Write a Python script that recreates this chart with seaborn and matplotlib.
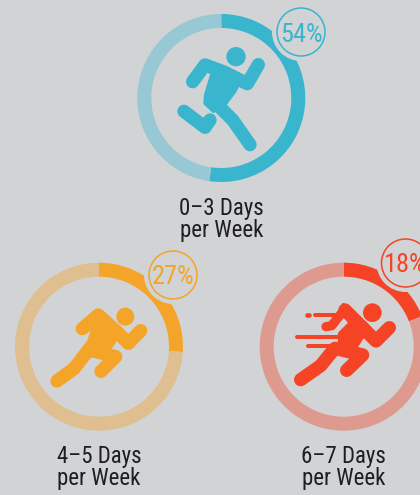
import matplotlib
matplotlib.use("Agg")
import matplotlib.pyplot as plt
from matplotlib.patches import Circle, Polygon
import seaborn as sns

categories = ["0–3 Days\nper Week", "4–5 Days\nper Week", "6–7 Days\nper Week"]
shares = [54, 27, 18]              # printed in the badges
arc_shares = [52.3, 26, 19.1]      # as actually drawn by the rings in the picture
strong_colors = ["#3AB5CE", "#F5A42A", "#F44325"]
pale_colors = ["#98C8D4", "#DFBF8F", "#DF9A90"]
BG = "#D1D3D5"
INK = "#1E1E20"

# layout in pixels (y measured from the top)
W, H = 420, 495
centers = [(221.3, 98), (99, 346.7), (343.7, 346.7)]
badges = [(301, 32), (173, 275), (405.5, 263)]
label_y = [219.5, 467.5, 467.5]
R_OUT, R_IN = 84, 70

sns.set_theme(style="white", rc={"figure.facecolor": BG, "axes.facecolor": BG})
plt.rcParams["font.family"] = ["Roboto Condensed", "DejaVu Sans"]

fig = plt.figure(figsize=(W / 100, H / 100), dpi=100)
ax = fig.add_axes([0, 0, 1, 1])


def icon(origin, col, head, lines, polys, width=40):
    """Pictogram: coordinates in 3x units from a pixel origin."""
    ox, oy = origin
    P = lambda p: (ox + p[0] / 3, H - (oy + p[1] / 3))
    ax.add_patch(Circle(P(head[:2]), head[2] / 3, fc=col, ec="none", zorder=5))
    for pts in polys:
        ax.add_patch(Polygon([P(p) for p in pts], closed=True, fc=col, ec=col, lw=2,
                             joinstyle="round", zorder=5))
    for item in lines:
        pts, w = item if isinstance(item, tuple) else (item, width)
        xs, ys = zip(*[P(p) for p in pts])
        ax.plot(xs, ys, color=col, lw=w / 3 * 0.72, solid_capstyle="round",
                solid_joinstyle="round", zorder=5)


runners = [
    dict(origin=(170, 40), head=(198, 50, 29),
         lines=[
             [(68, 125), (105, 75), (165, 97)],
             [(170, 100), (232, 131), (265, 74)],
             [(42, 214), (105, 262), (120, 240)],
             [(138, 190), (188, 240), (240, 314)],
         ],
         polys=[[(130, 85), (215, 115), (195, 155), (165, 195), (130, 215),
                 (104, 190), (106, 165)]]),
    dict(origin=(45, 300), head=(241, 50, 27),
         lines=[
             [(112, 86), (160, 45), (215, 95)],
             [(215, 95), (250, 130), (287, 92)],
             [(36, 243), (88, 205), (130, 150)],
             [(135, 150), (212, 170), (168, 214)],
         ],
         polys=[[(160, 35), (225, 100), (190, 155), (135, 170), (100, 165), (130, 125)]]),
    dict(origin=(290, 295), head=(247, 53, 28),
         lines=[
             [(165, 45), (218, 98)],
             [(218, 98), (258, 138), (298, 98)],
             [(32, 254), (92, 212), (130, 165)],
             [(135, 160), (218, 180), (170, 226)],
             ([(108, 95), (125, 92), (160, 48)], 28),
             ([(52, 60), (58, 60)], 14),
             ([(76, 60), (135, 60)], 12),
             ([(20, 127), (145, 127)], 12),
             ([(54, 152), (118, 152)], 12),
         ],
         polys=[[(160, 28), (235, 100), (200, 155), (140, 175), (105, 172), (120, 158),
                 (148, 150), (148, 115), (178, 85)]]),
]

for i, share in enumerate(shares):
    cx, cy = centers[i]
    ax.pie(
        [arc_shares[i], 100 - arc_shares[i]],
        colors=[strong_colors[i], pale_colors[i]],
        startangle=90,
        counterclock=False,
        center=(cx, H - cy),
        radius=R_OUT,
        wedgeprops=dict(width=R_OUT - R_IN, linewidth=0),
    )
    bx, by = badges[i]
    ax.add_patch(Circle((bx, H - by), 29, fc=BG, ec="none", zorder=3))
    ax.add_patch(Circle((bx, H - by), 24, fc=BG, ec=strong_colors[i], lw=1.1, zorder=4))
    ax.text(bx, H - by, f"{share}%", ha="center", va="center_baseline", fontsize=19,
            color=strong_colors[i], zorder=6)
    ax.text(cx, H - label_y[i], categories[i], ha="center", va="center", fontsize=16.5,
            color=INK, linespacing=1.0, zorder=6)
    icon(runners[i]["origin"], strong_colors[i],
         runners[i]["head"], runners[i]["lines"], runners[i]["polys"])

ax.set_xlim(0, W)
ax.set_ylim(0, H)
ax.set_aspect("auto")
ax.axis("off")
fig.savefig("out.png", dpi=100, facecolor=BG)
